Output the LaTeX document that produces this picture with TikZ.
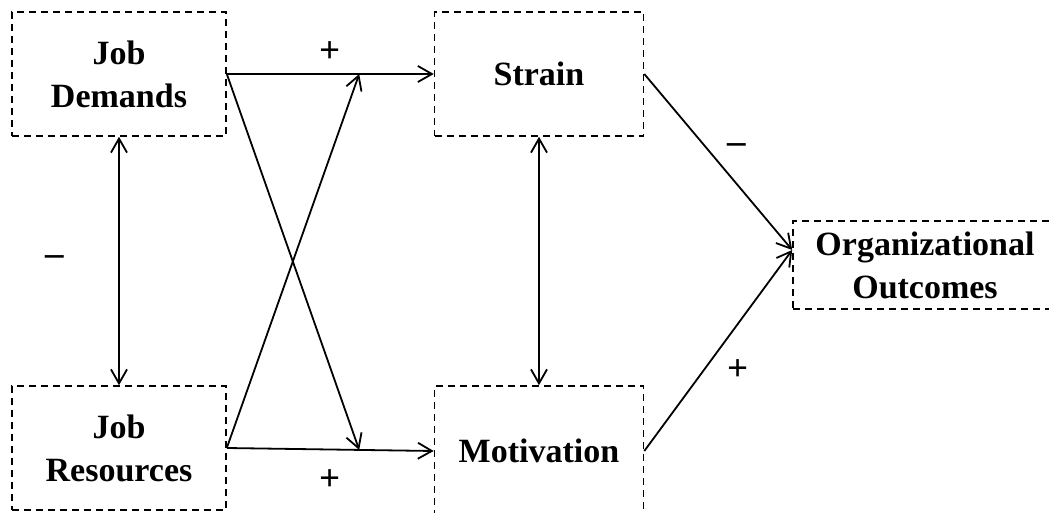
\documentclass[tikz,border=0pt]{standalone}
\usepackage{fontspec}
\setmainfont{Liberation Serif}
\usetikzlibrary{arrows.meta,calc}

\begin{document}
\begin{tikzpicture}[x=1pt, y=-1pt,
        block/.style={draw, dash pattern=on 7pt off 5pt, line width=1.6pt, align=center, inner sep=0pt,
            font=\bfseries\fontsize{34}{43}\selectfont},
        link/.style={solid, line width=1.8pt, -{Straight Barb[length=14pt,width=16pt]}},
        twoway/.style={solid, line width=1.8pt, {Straight Barb[length=14pt,width=16pt]}-{Straight Barb[length=14pt,width=16pt]}},
        sign/.style={inner sep=0pt, font=\bfseries\fontsize{37}{37}\selectfont}]
        \useasboundingbox (0, 0) rectangle (1049, 513);
        \node[block, minimum width=214pt, minimum height=124pt] (demands) at (119, 74) {Job\\Demands};
        \node[block, minimum width=214pt, minimum height=124pt] (resources) at (119, 448) {Job\\Resources};
        \node[block, minimum width=209pt, minimum height=124pt] (strain) at (539, 74) {Strain};
        \node[block, minimum width=209pt, minimum height=130pt] (motivation) at (539, 451) {Motivation};
        \node[block, minimum width=264pt, minimum height=88pt] (outcomes) at (925, 265) {Organizational\\Outcomes};
        \coordinate (into) at ($(outcomes.west) + (0, -15)$);
        % straight paths
        \draw[link] (demands.east) -- (strain.west) node[sign, midway, above=11pt] (plusA) {+};
        \draw[link] (resources.east) -- (motivation.west) node[sign, midway, below=19pt] (plusB) {+};
        % crossing paths
        \draw[link] (demands.east) -- ($(resources.east)!0.64!(motivation.west)$);
        \draw[link] (resources.east) -- ($(demands.east)!0.64!(strain.west)$);
        % correlations
        \draw[twoway] (demands.south) -- (resources.north) node[sign, midway, left=54pt] (minusA) {–};
        \draw[twoway] (strain.south) -- (motivation.north);
        % outcomes
        \draw[link] (strain.east) -- (into) node[sign, midway, above right=8pt] (minusB) {–};
        \draw[link] (motivation.east) -- (into) node[sign, midway, below right=8pt] (plusC) {+};
    \end{tikzpicture}
\end{document}
